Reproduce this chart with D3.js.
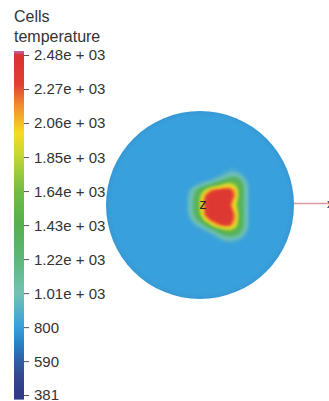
<!DOCTYPE html>
<html><head><meta charset="utf-8">
<script src="https://cdn.jsdelivr.net/npm/d3@7"></script>
<style>html,body{margin:0;padding:0;background:#fff}svg{display:block}</style>
</head><body><svg id="c" width="329" height="401"></svg>
<script>
const titleLines = ["Cells", "temperature"];
const tickValues = [2480, 2270, 2060, 1850, 1640, 1430, 1220, 1010, 800, 590, 381];
const tickLabels = ["2.48e + 03","2.27e + 03","2.06e + 03","1.85e + 03","1.64e + 03","1.43e + 03","1.22e + 03","1.01e + 03","800","590","381"];
const colorTemps = [381, 500, 590, 680, 800, 1010, 1220, 1430, 1640, 1870, 2000, 2170, 2300, 2480, 2500, 2530];
const colorHex = ["#343a86","#31498f","#2f5fa6","#2a7cc0","#38a0dc","#74c2b4","#5cb87a","#55b04e","#72bc46","#c8d832","#f6dc22","#f08c30","#e04030","#dc3030","#c060a0","#c060a0"];
const backgroundTemp = 800;
const gridCols = [185,190,195,200,205,210,215,220,225,230,235,240,245,250];
const gridRows = [170,175,180,185,190,195,200,205,210,215,220,225,230,235,240,245];
const temperature = [
[800,800,800,800,800,800,800,800,820,850,850,820,800,800],
[800,800,800,800,800,800,820,850,950,1050,1050,950,820,800],
[800,800,800,800,820,850,950,1100,1250,1400,1450,1250,950,800],
[800,800,850,950,1100,1250,1500,1700,1900,1950,1750,1450,1050,820],
[800,900,1150,1400,1750,2150,2300,2350,2400,2350,2100,1500,1100,820],
[800,950,1250,1650,2200,2400,2400,2400,2400,2400,2200,1500,1100,820],
[800,1000,1300,1750,2300,2400,2400,2400,2400,2400,2050,1450,1100,820],
[800,1000,1300,1750,2300,2400,2400,2400,2400,2300,1900,1400,1100,820],
[800,1000,1300,1750,2300,2400,2400,2400,2400,2400,2050,1450,1100,820],
[800,950,1250,1650,2250,2400,2400,2400,2400,2400,2200,1500,1100,820],
[800,850,1100,1350,1850,2250,2400,2400,2400,2400,2150,1450,1100,820],
[800,800,880,1000,1250,1650,2050,2250,2350,2300,1950,1450,1100,820],
[800,800,800,820,900,1050,1250,1500,1700,1750,1600,1350,1000,800],
[800,800,800,800,800,820,900,1100,1250,1300,1250,1100,880,800],
[800,800,800,800,800,800,820,850,920,950,920,850,800,800],
[800,800,800,800,800,800,800,800,800,800,800,800,800,800]
];
const axisLabels = {pole:"z", right:"x"};

const svg = d3.select("#c");
const defs = svg.append("defs");
defs.append("filter").attr("id","soft").append("feGaussianBlur").attr("stdDeviation",0.8);
defs.append("filter").attr("id","edge").append("feGaussianBlur").attr("stdDeviation",0.5);
const rim = defs.append("radialGradient").attr("id","rim");
rim.append("stop").attr("offset","0.94").attr("stop-color","#39a0dc");
rim.append("stop").attr("offset","1").attr("stop-color","#3698d4");
const color = d3.scaleLinear().domain(colorTemps).range(colorHex).interpolate(d3.interpolateRgb).clamp(true);

// colour bar
const barY = d3.scaleLinear().domain([381, 2480]).range([395, 55]);
const barTemps = d3.range(barY.invert(399), barY.invert(51), (barY.invert(50)-barY.invert(51)));
const bar = svg.append("g").attr("filter","url(#edge)");
bar.selectAll("rect").data(barTemps).join("rect")
  .attr("x",14).attr("width",10).attr("y",d=>barY(d)-1).attr("height",1.6).attr("fill",d=>color(d));
const axis = d3.axisRight(barY).tickValues(tickValues).tickSize(5).tickPadding(5)
  .tickFormat((d,i)=>tickLabels[i]);
const ag = svg.append("g").attr("transform","translate(24,0)").call(axis);
ag.select(".domain").remove();
ag.selectAll("line").attr("stroke","#555").attr("stroke-width",1);
ag.selectAll("text").attr("font-family","Liberation Sans").attr("font-size",15).attr("fill","#333").attr("dy","0.33em");

// title
svg.append("g").selectAll("text").data(titleLines).join("text")
  .attr("x",14).attr("y",(d,i)=>22+i*20).attr("font-family","Liberation Sans").attr("font-size",16).attr("fill","#333").text(d=>d);

// disc
const cx=200, cy=205, r=94;
defs.append("clipPath").attr("id","disc").append("circle").attr("cx",cx).attr("cy",cy).attr("r",r);
svg.append("line").attr("x1",cx+r-1).attr("x2",329).attr("y1",203.5).attr("y2",203.5).attr("stroke","#d99aa2").attr("stroke-width",1.6);
const disc = svg.append("g").attr("filter","url(#edge)");
disc.append("circle").attr("cx",cx).attr("cy",cy).attr("r",r).attr("fill","url(#rim)");
const xS = d3.scaleLinear().domain([0,gridCols.length-1]).range([gridCols[0],gridCols[gridCols.length-1]]);
const yS = d3.scaleLinear().domain([0,gridRows.length-1]).range([gridRows[0],gridRows[gridRows.length-1]]);
const flat = temperature.flat();
const levels = d3.range(825, 2425, 25);
const contours = d3.contours().size([gridCols.length,gridRows.length]).smooth(true).thresholds(levels)(flat);
const proj = d3.geoTransform({point(x,y){this.stream.point(xS(x-0.5),yS(y-0.5));}});
const path = d3.geoPath(proj);
svg.append("g").attr("filter","url(#soft)").attr("clip-path","url(#disc)")
  .selectAll("path").data(contours).join("path").attr("d",path).attr("fill",d=>color(d.value));

// axis letters
svg.append("text").attr("x",203).attr("y",209).attr("text-anchor","middle").attr("font-family","Liberation Sans").attr("font-size",14).attr("fill","#222").text(axisLabels.pole);
svg.append("text").attr("x",327).attr("y",208).attr("font-family","Liberation Sans").attr("font-size",13).attr("fill","#222").text(axisLabels.right);
</script></body></html>
